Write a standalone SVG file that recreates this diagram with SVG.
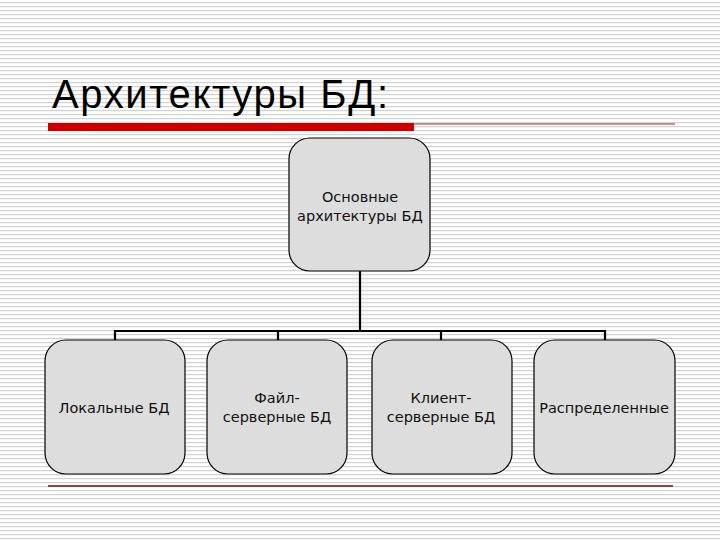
<svg xmlns="http://www.w3.org/2000/svg" width="720" height="540" viewBox="0 0 720 540">
  <defs>
    <pattern id="stripes" x="0" y="0" width="8" height="4" patternUnits="userSpaceOnUse">
      <rect x="0" y="0" width="8" height="4" fill="#ffffff"/>
      <rect x="0" y="2" width="8" height="1.2" fill="#d2d2d2"/>
    </pattern>
    <style>
      .node { fill: #dddddd; stroke: #000000; stroke-width: 1.2; }
      .lbl { font-family: "DejaVu Sans", "Liberation Sans", sans-serif; font-size: 14.5px; fill: #111111; text-anchor: middle; }
      .conn { fill: none; stroke: #000000; stroke-width: 2.2; }
    </style>
  </defs>
  <rect x="0" y="0" width="720" height="540" fill="url(#stripes)"/>

  <g id="title">
    <text x="52" y="108" font-family="Liberation Sans, Arial, sans-serif" font-size="40" fill="#000000" textLength="336" lengthAdjust="spacing">Архитектуры БД:</text>
    <rect x="48" y="123" width="366" height="8" fill="#cc0000"/>
    <line x1="414" y1="124" x2="675" y2="124" stroke="#8b2a2a" stroke-width="1"/>
    <line x1="48" y1="486" x2="673" y2="486" stroke="#5a1414" stroke-width="1.3"/>
  </g>

  <g id="connectors">
    <path class="conn" d="M360 271 V331"/>
    <path class="conn" d="M115 340 V331 H605 V340"/>
    <path class="conn" d="M278 331 V340"/>
    <path class="conn" d="M441 331 V340"/>
  </g>

  <g id="node-root">
    <rect class="node" x="289" y="138" width="141" height="133" rx="21" ry="21"/>
    <text class="lbl" x="360" y="202">Основные</text>
    <text class="lbl" x="360" y="221">архитектуры БД</text>
  </g>

  <g id="node-local">
    <rect class="node" x="45" y="340" width="140" height="134" rx="21" ry="21"/>
    <text class="lbl" x="114" y="413">Локальные БД</text>
  </g>

  <g id="node-file">
    <rect class="node" x="207" y="340" width="140" height="134" rx="21" ry="21"/>
    <text class="lbl" x="277" y="403">Файл-</text>
    <text class="lbl" x="277" y="422">серверные БД</text>
  </g>

  <g id="node-client">
    <rect class="node" x="372" y="340" width="140" height="134" rx="21" ry="21"/>
    <text class="lbl" x="441" y="403">Клиент-</text>
    <text class="lbl" x="441" y="422">серверные БД</text>
  </g>

  <g id="node-distributed">
    <rect class="node" x="534" y="340" width="141" height="134" rx="21" ry="21"/>
    <text class="lbl" x="604" y="413">Распределенные</text>
  </g>
</svg>
